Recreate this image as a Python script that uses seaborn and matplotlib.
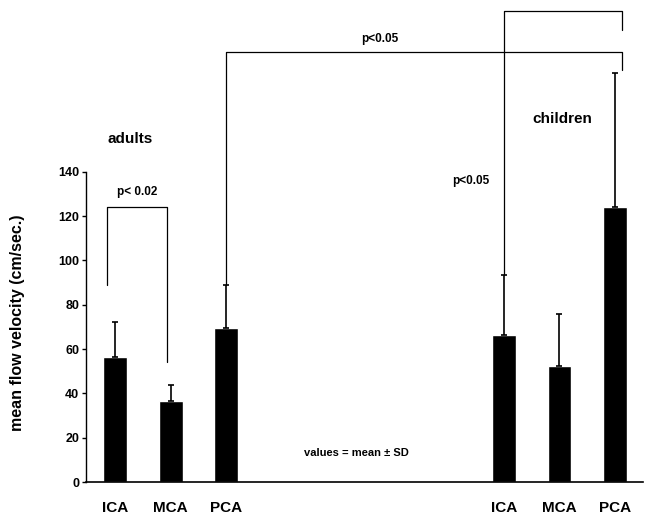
import numpy as np
import pandas as pd
import matplotlib
matplotlib.use('Agg')
import matplotlib.pyplot as plt
import seaborn as sns

# data
vessels = ['ICA', 'MCA', 'PCA', 'ICA', 'MCA', 'PCA']
group = ['adults'] * 3 + ['children'] * 3
pos = [0, 1, 2, 7, 8, 9]
mean_vel = [56.5, 36.5, 69.5, 66.4, 52.5, 124.0]
sd_vel = [15.5, 7.5, 19.2, 27.0, 23.5, 60.5]

df = pd.DataFrame({'pos': pos, 'vel': mean_vel, 'sd': sd_vel, 'group': group})

sns.set_style('ticks')
plt.rcParams['font.family'] = ['Liberation Sans', 'DejaVu Sans']
plt.rcParams['font.weight'] = 'bold'
plt.rcParams['text.color'] = 'black'
plt.rcParams['axes.labelcolor'] = 'black'
plt.rcParams['xtick.color'] = 'black'
plt.rcParams['ytick.color'] = 'black'
plt.rcParams['axes.edgecolor'] = 'black'

fig = plt.figure(figsize=(6.48, 5.2), dpi=100)
ax = fig.add_axes([0.133, 0.073, 0.859, 0.927])

sns.barplot(data=df, x='pos', y='vel', native_scale=True, width=0.43,
            color='black', saturation=1, ax=ax, errorbar=None)
ax.errorbar(df['pos'], df['vel'], yerr=[np.zeros(len(df)), df['sd']],
            fmt='none', ecolor='black', elinewidth=1.2, capsize=2, capthick=1.2)

ax.set_xlim(-0.52, 9.5)
ax.set_ylim(0, 217.5)
ax.set_yticks(range(0, 141, 20))
ax.set_yticklabels([str(v) for v in range(0, 141, 20)], fontsize=9, fontweight='bold')
ax.set_xticks(pos)
ax.set_xticklabels(vessels, fontsize=11, fontweight='bold')
ax.tick_params(axis='x', length=0, pad=14)
ax.tick_params(axis='y', length=3, width=1, pad=2)
ax.set_xlabel('')
ax.set_ylabel('mean flow velocity (cm/sec.)', fontsize=11.5, fontweight='bold')
ax.yaxis.set_label_coords(-0.11, 0.33)

sns.despine(ax=ax)
ax.spines['left'].set_bounds(0, 140)
ax.spines['left'].set_linewidth(1)
ax.spines['bottom'].set_linewidth(1.2)

lw = 0.9
lc = 'black'
# adults ICA vs MCA
ax.plot([-0.14, -0.14, 0.94, 0.94], [89, 124, 124, 54], color=lc, lw=lw)
ax.text(0.4, 128, 'p< 0.02', ha='center', va='bottom', fontsize=8.5, fontweight='bold')
# adult PCA vs children PCA
ax.plot([2, 2, 9.12, 9.12], [89, 194, 194, 186], color=lc, lw=lw)
ax.text(4.77, 197, 'p<0.05', ha='center', va='bottom', fontsize=8.5, fontweight='bold')
# children ICA vs PCA
ax.plot([7, 7, 9.12, 9.12], [93.5, 212.5, 212.5, 204], color=lc, lw=lw)
ax.text(6.73, 136, 'p<0.05', ha='right', va='center', fontsize=8.5, fontweight='bold')

ax.text(0.27, 155, 'adults', ha='center', va='center', fontsize=11, fontweight='bold')
ax.text(8.05, 164, 'children', ha='center', va='center', fontsize=11, fontweight='bold')
ax.text(4.35, 13, 'values = mean \u00b1 SD', ha='center', va='center', fontsize=8, fontweight='bold')

fig.savefig('out.png', dpi=100)
